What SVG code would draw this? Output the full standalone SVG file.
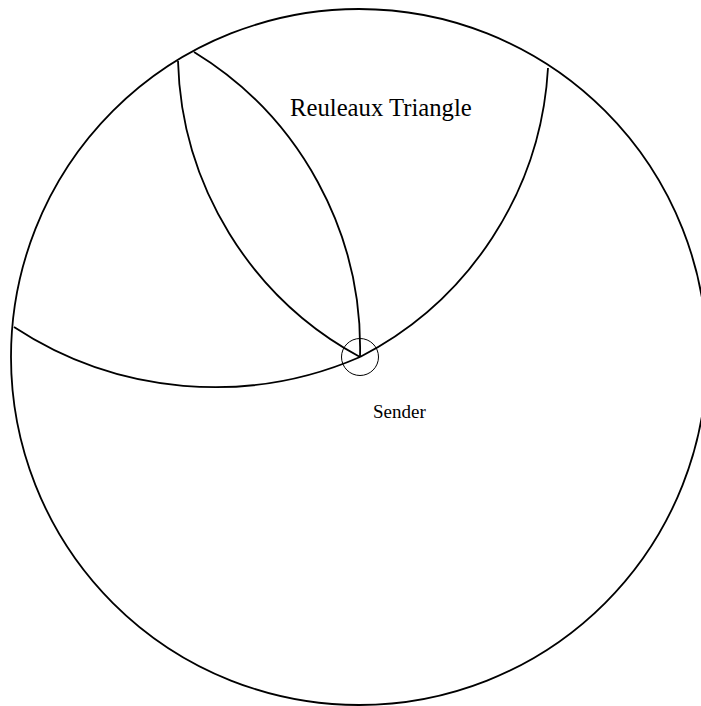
<svg xmlns="http://www.w3.org/2000/svg" width="701" height="706" viewBox="0 0 701 706">
<style>
.c{fill:none;stroke:#000;stroke-width:1.8}
.s{fill:none;stroke:#000;stroke-width:1}
text{font-family:"Liberation Serif","Times New Roman",serif;fill:#000}
</style>
<rect width="701" height="706" fill="#fff"/>
<g id="range-circle"><circle class="c" cx="359" cy="357" r="348"/></g>
<g id="connectors">
<path class="c" d="M178,61 A347,347 0 0 0 360,357"/>
<path class="c" d="M194,52 A347,347 0 0 1 360,357"/>
<path class="c" d="M548,68 A347,347 0 0 1 360,357"/>
<path class="c" d="M14,327 A365,365 0 0 0 360,357"/>
</g>
<g id="sender">
<circle class="s" cx="360" cy="357" r="18.5"/>
<text x="373" y="418" font-size="19">Sender</text>
</g>
<g id="title"><text x="290" y="116" font-size="24.7">Reuleaux Triangle</text></g>
</svg>
